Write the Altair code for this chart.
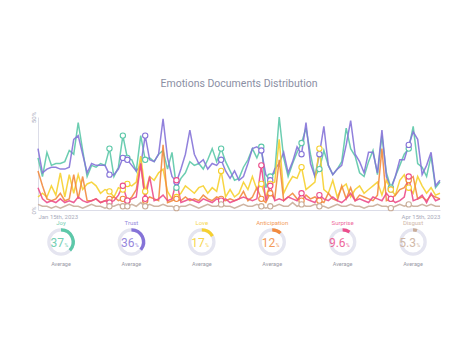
import altair as alt
import pandas as pd

EMOTIONS = ["Joy", "Trust", "Love", "Anticipation", "Surprise", "Disgust"]
COLORS = ["#5cc8a8", "#8573d8", "#f6d02f", "#f28a3e", "#ec4d8b", "#c9ad99"]
AVERAGES = [37, 36, 17, 12, 9.6, 5.3]
AVG_LABELS = ["37", "36", "17", "12", "9.6", "5.3"]
START = "2023-01-15"

JOY = [28, 18, 31, 24, 25, 25, 26, 32, 30, 47,
       32, 18, 24, 23, 25, 24, 33, 18, 23, 40,
       28, 27, 21, 40, 27, 28, 26, 30, 32, 22,
       31, 12, 17, 20, 26, 24, 25, 22, 27, 33,
       26, 33, 26, 21, 16, 17, 23, 27, 33, 28,
       34, 12, 18, 20, 50, 28, 18, 25, 31, 36,
       44, 30, 18, 22, 32, 24, 19, 22, 26, 44,
       33, 29, 20, 18, 26, 32, 19, 40, 20, 12,
       18, 24, 30, 33, 45, 25, 23, 18, 29, 12, 15]
TRUST = [33, 20, 22, 23, 23, 22, 22, 23, 38, 40,
         30, 20, 25, 24, 24, 24, 19, 19, 22, 28,
         27, 24, 21, 24, 40, 27, 26, 30, 49, 28,
         18, 15, 22, 30, 43, 30, 25, 27, 22, 25,
         24, 27, 21, 17, 21, 16, 18, 25, 33, 34,
         32, 19, 16, 22, 25, 31, 20, 26, 34, 30,
         47, 25, 18, 30, 45, 24, 19, 22, 24, 35,
         48, 30, 26, 20, 31, 31, 20, 43, 18, 11,
         18, 27, 27, 35, 42, 38, 19, 24, 31, 13, 16]
LOVE = [7, 9, 7, 13, 8, 20, 7, 19, 9, 19,
        11, 14, 15, 13, 9, 11, 10, 7, 12, 11,
        14, 13, 15, 29, 10, 18, 16, 20, 22, 10,
        6, 7, 9, 13, 11, 9, 12, 13, 9, 12,
        10, 21, 7, 11, 7, 9, 15, 11, 18, 11,
        14, 7, 14, 15, 38, 9, 14, 18, 17, 23,
        11, 13, 15, 33, 11, 9, 16, 7, 12, 14,
        7, 11, 13, 9, 11, 13, 15, 8, 16, 11,
        8, 16, 19, 12, 9, 18, 13, 9, 12, 8, 9]
ANTICIPATION = [21, 13, 6, 5, 6, 9, 5, 6, 19, 6,
                18, 5, 5, 6, 4, 5, 6, 7, 5, 6,
                5, 7, 11, 25, 5, 7, 6, 5, 35, 4,
                5, 6, 5, 7, 5, 6, 5, 8, 6, 5,
                7, 6, 5, 6, 5, 6, 10, 5, 7, 12,
                6, 4, 9, 6, 27, 5, 7, 9, 6, 5,
                8, 6, 7, 5, 4, 9, 6, 5, 13, 6,
                12, 5, 8, 7, 6, 5, 8, 33, 5, 6,
                8, 11, 12, 16, 18, 6, 7, 5, 8, 7, 6]
SURPRISE = [12, 6, 4, 5, 4, 6, 4, 5, 4, 7,
            5, 4, 5, 6, 4, 5, 4, 5, 8, 13,
            5, 6, 7, 25, 6, 18, 5, 6, 8, 5,
            6, 16, 4, 5, 6, 5, 4, 6, 5, 4,
            6, 5, 6, 4, 5, 6, 7, 6, 5, 6,
            24, 5, 13, 5, 6, 5, 7, 6, 5, 9,
            6, 5, 4, 8, 6, 5, 7, 5, 4, 6,
            9, 5, 6, 5, 4, 7, 6, 5, 9, 6,
            4, 5, 7, 18, 5, 6, 8, 4, 9, 5, 6]
DISGUST = [3, 2, 2, 1, 2, 1, 2, 3, 2, 2,
           1, 2, 3, 2, 2, 1, 2, 2, 3, 2,
           2, 3, 2, 4, 2, 3, 2, 2, 3, 2,
           2, 1, 2, 2, 3, 2, 1, 2, 3, 2,
           2, 3, 2, 2, 1, 2, 3, 2, 2, 3,
           2, 1, 2, 2, 3, 2, 2, 4, 2, 3,
           2, 2, 3, 2, 2, 1, 2, 3, 2, 2,
           3, 2, 2, 1, 2, 2, 3, 2, 2, 1,
           2, 3, 2, 3, 2, 2, 3, 2, 3, 2, 2]
MARKER_DAYS = [16, 19, 20, 24, 31, 41, 50, 52, 59, 63, 79, 83]

SERIES = [JOY, TRUST, LOVE, ANTICIPATION, SURPRISE, DISGUST]

rows = []
start = pd.Timestamp(START)
for name, vals in zip(EMOTIONS, SERIES):
    for i, v in enumerate(vals):
        d = start + pd.Timedelta(days=i)
        rows.append({"date": d.strftime("%Y-%m-%dT00:00:00"), "emotion": name,
                     "value": v, "marker": i in MARKER_DAYS})
df = pd.DataFrame(rows)

FONT = "Roboto"
color_scale = alt.Scale(domain=EMOTIONS, range=COLORS)
x_enc = alt.X("date:T", scale=alt.Scale(nice=False),
              axis=alt.Axis(values=[alt.DateTime(year=2023, month=1, date=15),
                                    alt.DateTime(year=2023, month=4, date=15)],
                            labelExpr="timeFormat(datum.value, '%b %-d') + 'th, ' + timeFormat(datum.value, '%Y')",
                            labelFlush=True, ticks=False, grid=False, domainColor="#dcdde8",
                            labelFontSize=6, labelColor="#a9abbb", labelPadding=3, title=None))
y_enc = alt.Y("value:Q", scale=alt.Scale(domain=[0, 50], nice=False),
              axis=alt.Axis(values=[0, 50], labelExpr="datum.value + '%'", labelAngle=-90,
                            labelFlush=True, ticks=False, grid=False, domainColor="#dcdde8",
                            labelFontSize=6, labelColor="#a9abbb", labelPadding=2, title=None))

base = alt.Chart(df)
lines = base.mark_line(strokeWidth=1.5, opacity=0.9).encode(
    x=x_enc, y=y_enc,
    color=alt.Color("emotion:N", scale=color_scale, legend=None),
    order=alt.Order("date:T"),
    detail="emotion:N",
)
points = base.transform_filter("datum.marker").mark_point(
    filled=True, fill="white", size=28, strokeWidth=1.1, opacity=1
).encode(
    x="date:T", y="value:Q",
    stroke=alt.Stroke("emotion:N", scale=color_scale, legend=None),
)
top = alt.layer(lines, points).properties(
    width=402, height=93,
    title=alt.TitleParams("Emotions Documents Distribution", fontSize=10.5, color="#8b8fa4",
                          fontWeight="normal", font=FONT, offset=22, anchor="middle"),
)


def donut(i):
    name = EMOTIONS[i]
    col = COLORS[i]
    d = pd.DataFrame({"zero": [0], "full": [100], "avg": [AVERAGES[i]],
                      "label": [AVG_LABELS[i]], "name": [name]})
    b = alt.Chart(d)
    ts = alt.Scale(domain=[0, 100], range=[0, 6.283185])
    ring = b.mark_arc(innerRadius=10.5, outerRadius=13.8, color="#e5e5f0").encode(
        theta=alt.Theta("zero:Q", scale=ts, stack=None), theta2="full:Q")
    arc = b.mark_arc(innerRadius=10.5, outerRadius=13.8, color=col).encode(
        theta=alt.Theta("zero:Q", scale=ts, stack=None), theta2="avg:Q")
    num = b.mark_text(fontSize=12, align="right", baseline="alphabetic", dx=3, dy=4.5,
                      color=col, opacity=0.85, font=FONT).encode(text="label:N")
    pct = b.mark_text(fontSize=5, align="left", baseline="alphabetic", dx=3.5, dy=4.5,
                      color=col, opacity=0.85, font=FONT).encode(text=alt.value("%"))
    lab = b.mark_text(fontSize=6, dy=-19, color=col, opacity=0.85, font=FONT).encode(
        text="name:N")
    avg = b.mark_text(fontSize=5.5, dy=22, color="#9a9aa6", font=FONT).encode(
        text=alt.value("Average"))
    return alt.layer(ring, arc, num, pct, lab, avg).properties(width=46, height=46)


donuts = alt.hconcat(*[donut(i) for i in range(6)], spacing=24.4)

chart = alt.vconcat(top, donuts, spacing=0).properties(
    padding={"left": 29, "top": 78, "right": 0, "bottom": 0}
).configure(font=FONT, background="white").configure_view(stroke=None)

chart.save("out.html", embed_options={"renderer": "svg", "actions": False})
